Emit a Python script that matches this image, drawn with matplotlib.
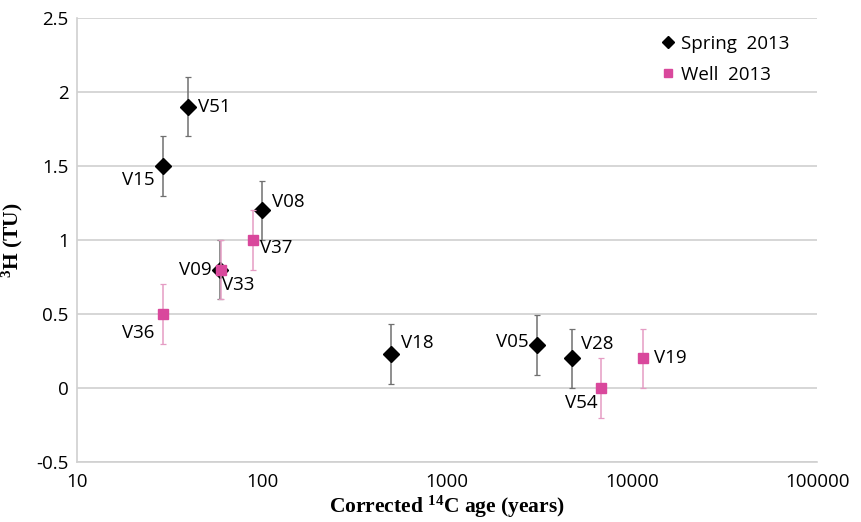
import matplotlib
matplotlib.use("Agg")
import matplotlib.pyplot as plt
import numpy as np

# --- data ---
spring_names = ['V15', 'V51', 'V08', 'V09', 'V18', 'V05', 'V28']
spring_age = [29, 40, 100, 59, 500, 3050, 4700]
spring_tu = [1.5, 1.9, 1.2, 0.8, 0.23, 0.29, 0.2]
spring_err = [0.2, 0.2, 0.2, 0.2, 0.2, 0.2, 0.2]

well_names = ['V36', 'V33', 'V37', 'V54', 'V19']
well_age = [29, 60, 89, 6800, 11400]
well_tu = [0.5, 0.8, 1.0, 0.0, 0.2]
well_err = [0.2, 0.2, 0.2, 0.2, 0.2]

# label offsets in points (dx, dy, ha)
spring_off = [(-6, -10, 'right'), (7, 0, 'left'), (7, 6, 'left'), (-6, 0, 'right'),
              (7, 8, 'left'), (-6, 2, 'right'), (7, 10, 'left')]
well_off = [(-6, -14, 'right'), (1, -11, 'left'), (5, -6, 'left'), (-3, -11, 'right'),
            (8, 0, 'left')]

pink = '#D9489C'
tick_font = 'Open Sans'
lab_size = 13.5

fig = plt.figure(figsize=(8.62, 5.22), dpi=100)
ax = fig.add_axes([0.0893, 0.115, 0.859, 0.8505])

ax.errorbar(spring_age, spring_tu, yerr=spring_err, fmt='D', color='black', ms=8,
            ecolor='#707070', elinewidth=1.1, capsize=2.5, capthick=0.9,
            label='Spring  2013', zorder=3)
ax.errorbar(well_age, well_tu, yerr=well_err, fmt='s', color=pink, ms=7,
            ecolor='#E59CC4', elinewidth=1.1, capsize=2.5, capthick=0.9,
            label='Well  2013', zorder=4)

for name, x, y, (dx, dy, ha) in zip(spring_names, spring_age, spring_tu, spring_off):
    ax.annotate(name, (x, y), xytext=(dx, dy), textcoords='offset points', ha=ha,
                va='center', fontsize=lab_size, family=tick_font)
for name, x, y, (dx, dy, ha) in zip(well_names, well_age, well_tu, well_off):
    ax.annotate(name, (x, y), xytext=(dx, dy), textcoords='offset points', ha=ha,
                va='center', fontsize=lab_size, family=tick_font)

ax.set_xscale('log')
ax.set_xlim(10, 100000)
ax.set_ylim(-0.5, 2.5)
ax.set_xticks([10, 100, 1000, 10000, 100000])
ax.set_xticklabels(['10', '100', '1000', '10000', '100000'])
ax.set_yticks(np.arange(-0.5, 2.51, 0.5))
ax.set_yticklabels(['-0.5', '0', '0.5', '1', '1.5', '2', '2.5'])
ax.minorticks_off()
ax.tick_params(length=0, labelsize=lab_size)
ax.tick_params(axis='x', pad=8)
ax.tick_params(axis='y', pad=6)
for lab in ax.get_xticklabels() + ax.get_yticklabels():
    lab.set_family(tick_font)

ax.grid(axis='y', color='#D0D0D0', linewidth=1.2)
ax.set_axisbelow(True)
for s in ['top', 'right']:
    ax.spines[s].set_visible(False)
ax.spines['left'].set_color('#D0D0D0')
ax.spines['bottom'].set_color('#D0D0D0')
ax.spines['left'].set_linewidth(1.2)
ax.spines['bottom'].set_linewidth(1.2)

ax.set_xlabel('Corrected $\\mathregular{^{14}}$C age (years)', family='Liberation Serif',
              fontweight='bold', fontsize=15.5, labelpad=2)
ax.set_ylabel('$\\mathregular{^{3}}$H (TU)', family='Liberation Serif',
              fontweight='bold', fontsize=15.5, labelpad=8)

handles, labels = ax.get_legend_handles_labels()
handles = [h[0] for h in handles]
leg = ax.legend(handles, labels, loc='upper right', bbox_to_anchor=(0.985, 1.0),
                frameon=False, handletextpad=0.2, handlelength=1.0,
                labelspacing=0.7, prop={'family': tick_font, 'size': lab_size})
leg.legend_handles[0].set_markersize(6)
leg.legend_handles[1].set_markersize(6)

fig.savefig('out.png', dpi=100)
